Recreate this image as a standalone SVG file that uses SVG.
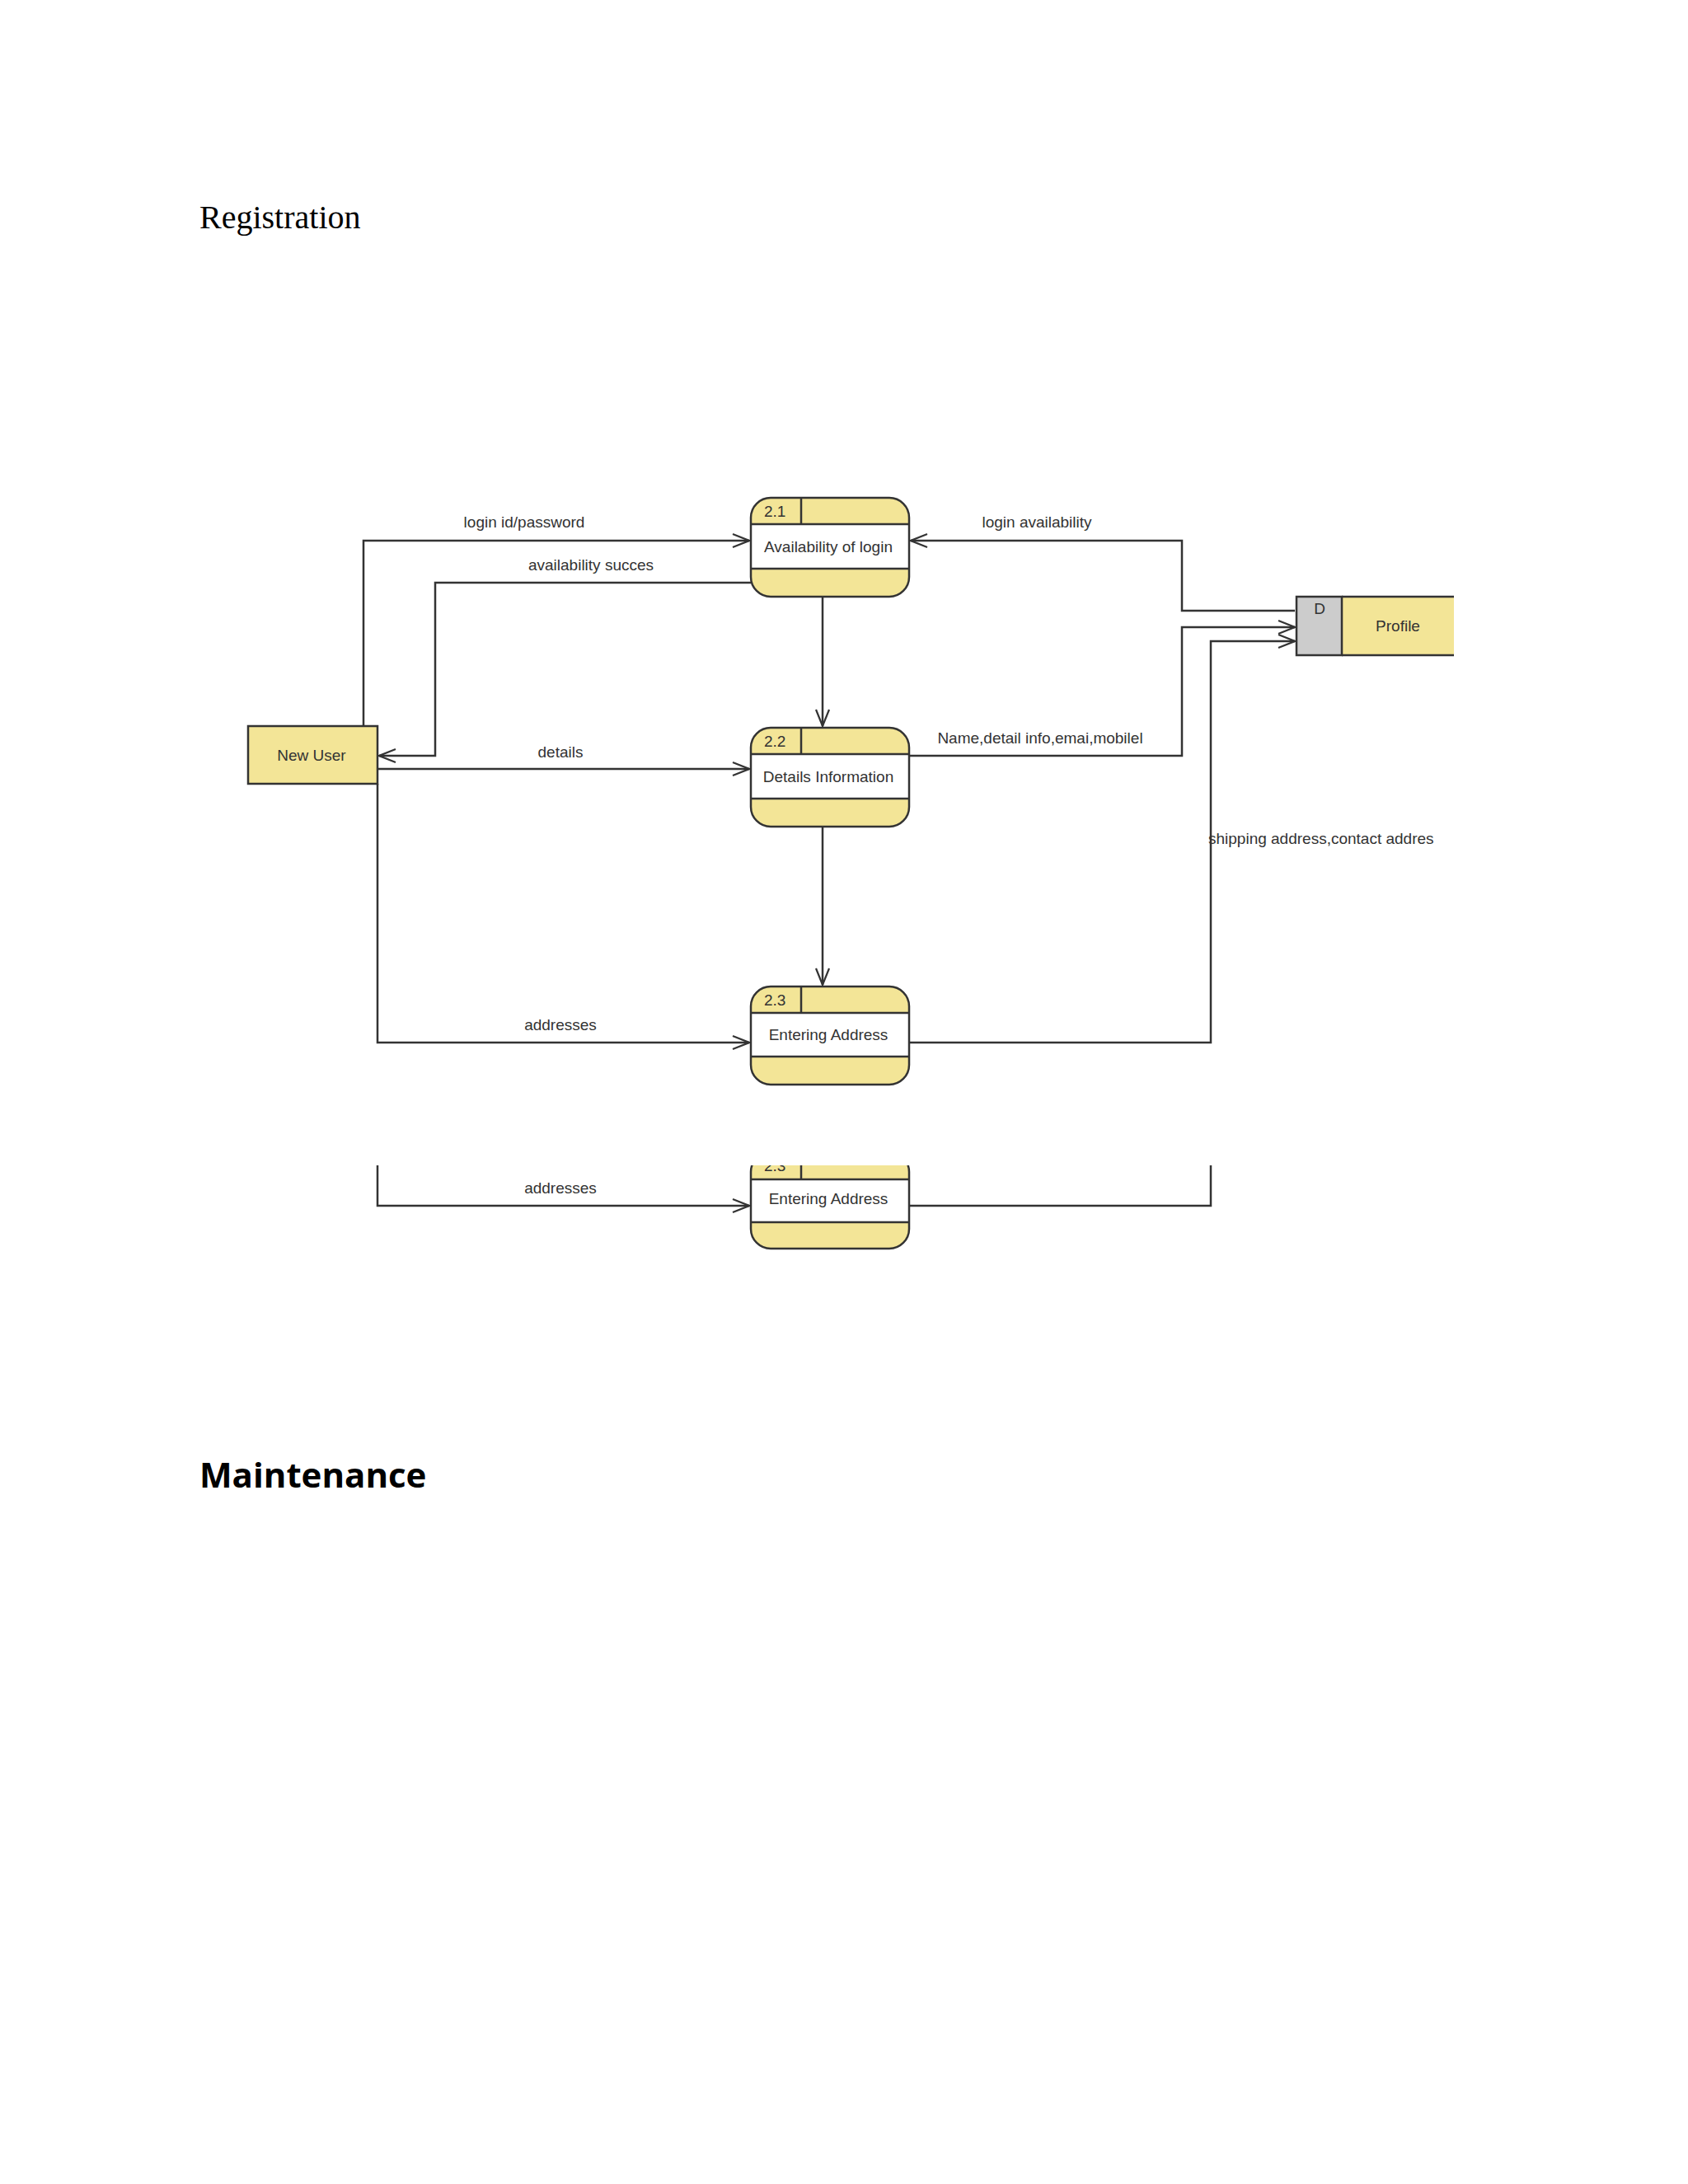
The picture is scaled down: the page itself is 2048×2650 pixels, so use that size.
<svg xmlns="http://www.w3.org/2000/svg" width="2048" height="2650" viewBox="0 0 2048 2650">
<style>
.t{font-family:"Liberation Sans",Arial,sans-serif;font-size:19px;fill:#333}
.c{text-anchor:middle}
.ln{fill:none;stroke:#333;stroke-width:2.5}
.y{fill:#f3e597}
.o{fill:none;stroke:#333;stroke-width:2.5}
</style>
<defs>
<marker id="a" markerWidth="24" markerHeight="20" refX="22" refY="10" orient="auto" markerUnits="userSpaceOnUse"><path d="M2,2 L22,10 L2,18" fill="none" stroke="#333" stroke-width="2.2"/></marker>
<clipPath id="cut"><rect x="0" y="1414" width="2048" height="200"/></clipPath>
</defs>
<rect width="2048" height="2650" fill="#fff"/>
<text x="242" y="277" style="font-family:'Liberation Serif',serif;font-size:40px;fill:#000">Registration</text>
<text x="242" y="1805" style="font-family:'Open Sans','Liberation Sans',sans-serif;font-size:42px;font-weight:bold;fill:#000">Maintenance</text>
<g id="connectors">
<path class="ln" d="M441,881 V656 H909" marker-end="url(#a)"/>
<text class="t c" x="636" y="640">login id/password</text>
<path class="ln" d="M911,707 H528 V917 H460" marker-end="url(#a)"/>
<text class="t c" x="717" y="692">availability succes</text>
<path class="ln" d="M458,933 H909" marker-end="url(#a)"/>
<text class="t c" x="680" y="919">details</text>
<path class="ln" d="M998,724 V881" marker-end="url(#a)"/>
<path class="ln" d="M998,1003 V1195" marker-end="url(#a)"/>
<path class="ln" d="M458,951 V1265 H909" marker-end="url(#a)"/>
<text class="t c" x="680" y="1250">addresses</text>
<path class="ln" d="M1571,741 H1434 V656 H1105" marker-end="url(#a)"/>
<text class="t c" x="1258" y="640">login availability</text>
<path class="ln" d="M1103,917 H1434 V761 H1571" marker-end="url(#a)"/>
<text class="t c" x="1262" y="902">Name,detail info,emai,mobilel</text>
<path class="ln" d="M1103,1265 H1469 V778 H1571" marker-end="url(#a)"/>
<text class="t" x="1466" y="1024">shipping address,contact addres</text>
<path class="ln" d="M458,1414 V1463 H909" marker-end="url(#a)"/>
<text class="t c" x="680" y="1448">addresses</text>
<path class="ln" d="M1103,1463 H1469 V1414"/>
</g>
<g id="p21">
<rect class="y" x="911" y="604" width="192" height="120" rx="24"/>
<rect x="911" y="636" width="192" height="54" fill="#fff"/>
<rect class="o" x="911" y="604" width="192" height="120" rx="24"/>
<path class="o" d="M911,636 H1103 M911,690 H1103 M972,604 V636"/>
<text class="t" x="927" y="627">2.1</text>
<text class="t c" x="1005" y="670">Availability of login</text>
</g>
<g id="p22">
<rect class="y" x="911" y="883" width="192" height="120" rx="24"/>
<rect x="911" y="915" width="192" height="54" fill="#fff"/>
<rect class="o" x="911" y="883" width="192" height="120" rx="24"/>
<path class="o" d="M911,915 H1103 M911,969 H1103 M972,883 V915"/>
<text class="t" x="927" y="906">2.2</text>
<text class="t c" x="1005" y="949">Details Information</text>
</g>
<g id="p23">
<rect class="y" x="911" y="1197" width="192" height="119" rx="24"/>
<rect x="911" y="1229" width="192" height="53" fill="#fff"/>
<rect class="o" x="911" y="1197" width="192" height="119" rx="24"/>
<path class="o" d="M911,1229 H1103 M911,1282 H1103 M972,1197 V1229"/>
<text class="t" x="927" y="1220">2.3</text>
<text class="t c" x="1005" y="1262">Entering Address</text>
</g>
<g id="p23b" clip-path="url(#cut)">
<rect class="y" x="911" y="1398" width="192" height="117" rx="24"/>
<rect x="911" y="1431" width="192" height="52" fill="#fff"/>
<rect class="o" x="911" y="1398" width="192" height="117" rx="24"/>
<path class="o" d="M911,1431 H1103 M911,1483 H1103 M972,1398 V1431"/>
<text class="t" x="927" y="1421">2.3</text>
<text class="t c" x="1005" y="1461">Entering Address</text>
</g>
<g id="newuser">
<rect class="y" x="301" y="881" width="157" height="70" stroke="#333" stroke-width="2.5"/>
<text class="t c" x="378" y="923">New User</text>
</g>
<g id="profile">
<rect x="1628" y="724" width="136" height="71" class="y"/>
<rect x="1573" y="724" width="55" height="71" fill="#cccccc" stroke="#333" stroke-width="2.5"/>
<path class="o" d="M1628,724 H1764 M1628,795 H1764"/>
<text class="t c" x="1601" y="745">D</text>
<text class="t c" x="1696" y="766">Profile</text>
</g>
</svg>
